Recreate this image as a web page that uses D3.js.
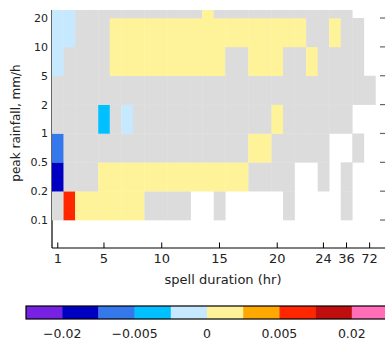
<!DOCTYPE html>
<html>
<head>
<meta charset="utf-8">
<script src="https://cdn.jsdelivr.net/npm/d3@7/dist/d3.min.js"></script>
<style>
  html, body { margin: 0; padding: 0; background: #fff; }
  svg { display: block; }
  text { font-family: "DejaVu Sans", sans-serif; fill: #222; }
</style>
</head>
<body>
<svg id="chart" width="385" height="341"></svg>
<script>
// Spell duration categories (hr), one column each
const durations = [1, 2, 3, 4, 5, 6, 7, 8, 9, 10, 11, 12, 13, 14, 15, 16, 17, 18, 19, 20, 21, 22, 23, 24, 30, 36, 48, 72];
const durationTicks = [1, 5, 10, 15, 20, 24, 36, 72];

// Peak rainfall class boundaries (mm/h), one row between each pair
const rainBounds = [0.05, 0.1, 0.2, 0.5, 1, 2, 5, 10, 20, 50];
const rainTicks = [0.1, 0.2, 0.5, 1, 2, 5, 10, 20];

// Trend per cell: number = trend, "ns" = not significant, null = no data
const rain20to50 = [-0.001, -0.001, "ns", "ns", "ns", "ns", "ns", "ns", "ns", "ns", "ns", "ns", "ns", 0.001, "ns", "ns", "ns", "ns", "ns", "ns", "ns", "ns", "ns", "ns", "ns", "ns", null, null];
const rain10to20 = [-0.001, -0.001, "ns", "ns", "ns", 0.001, 0.001, 0.001, 0.001, 0.001, 0.001, 0.001, 0.001, 0.001, 0.001, 0.001, 0.001, 0.001, 0.001, 0.001, 0.001, 0.001, "ns", "ns", 0.001, "ns", "ns", null];
const rain5to10 = [-0.001, "ns", "ns", "ns", "ns", 0.001, 0.001, 0.001, 0.001, 0.001, 0.001, 0.001, 0.001, 0.001, 0.001, "ns", "ns", 0.001, 0.001, 0.001, "ns", "ns", 0.001, "ns", "ns", "ns", "ns", null];
const rain2to5 = ["ns", "ns", "ns", "ns", "ns", "ns", "ns", "ns", "ns", "ns", "ns", "ns", "ns", "ns", "ns", "ns", "ns", "ns", "ns", "ns", "ns", "ns", "ns", "ns", "ns", "ns", "ns", "ns"];
const rain1to2 = ["ns", "ns", "ns", "ns", -0.003, "ns", -0.001, "ns", "ns", "ns", "ns", "ns", "ns", "ns", "ns", "ns", "ns", "ns", "ns", 0.001, "ns", "ns", "ns", "ns", "ns", "ns", null, null];
const rain05to1 = [-0.007, "ns", "ns", "ns", "ns", "ns", "ns", "ns", "ns", "ns", "ns", "ns", "ns", "ns", "ns", "ns", "ns", 0.001, 0.001, "ns", "ns", "ns", "ns", "ns", null, null, "ns", null];
const rain02to05 = [-0.015, "ns", "ns", "ns", 0.001, 0.001, 0.001, 0.001, 0.001, 0.001, 0.001, 0.001, 0.001, 0.001, 0.001, 0.001, 0.001, "ns", "ns", "ns", "ns", null, null, "ns", null, "ns", null, null];
const rain01to02 = ["ns", 0.007, 0.001, 0.001, 0.001, 0.001, 0.001, 0.001, "ns", "ns", "ns", "ns", null, null, "ns", null, null, null, null, null, "ns", null, null, null, null, "ns", null, null];
const rain005to01 = [null, null, null, null, null, null, null, null, null, null, null, null, null, null, null, null, null, null, null, null, null, null, null, null, null, null, null, null];

// Rows from the lowest rainfall class upward
const rows = [rain005to01, rain01to02, rain02to05, rain05to1, rain1to2, rain2to5, rain5to10, rain10to20, rain20to50];

// Colour classes
const trendBounds = [-0.05, -0.02, -0.01, -0.005, -0.002, 0, 0.002, 0.005, 0.01, 0.02, 0.05];
const trendColors = ["#7722e2", "#0000c2", "#3478ec", "#00c0ff", "#c6e9ff", "#fff399", "#ffa800", "#ff2600", "#c00d0d", "#ff6eb6"];
const colorbarLabels = [{ v: -0.02, t: "\u22120.02" }, { v: -0.005, t: "\u22120.005" }, { v: 0, t: "0" }, { v: 0.005, t: "0.005" }, { v: 0.02, t: "0.02" }];
const nsColor = "#dcdcdc";

const svg = d3.select("#chart");
const plot = { left: 52, right: 385, top: 10, bottom: 248 };

const x = d3.scaleBand().domain(durations).range([plot.left, plot.left + durations.length * 11.55]).paddingInner(0).paddingOuter(0);
const y = d3.scalePoint().domain(rainBounds).range([248.9, 248.9 - 28.86 * (rainBounds.length - 1)]);
const color = d3.scaleThreshold().domain(trendBounds.slice(1, -1)).range(trendColors);

svg.append("defs").append("clipPath").attr("id", "plotclip")
  .append("rect").attr("x", plot.left).attr("y", plot.top)
  .attr("width", plot.right - plot.left).attr("height", plot.bottom - plot.top);

// left axis line (cells are drawn over it)
svg.append("line").attr("x1", plot.left).attr("x2", plot.left)
  .attr("y1", plot.top).attr("y2", plot.bottom)
  .attr("stroke", "#000").attr("stroke-width", 1.2);

// cells
const cells = [];
rows.forEach((row, r) => {
  row.forEach((v, c) => {
    if (v === null) return;
    cells.push({ lo: rainBounds[r], hi: rainBounds[r + 1], d: durations[c], v });
  });
});

svg.append("g").attr("clip-path", "url(#plotclip)")
  .selectAll("rect").data(cells).join("rect")
  .attr("x", d => x(d.d))
  .attr("width", x.bandwidth() + 0.3)
  .attr("y", d => y(d.hi))
  .attr("height", d => y(d.lo) - y(d.hi) + 0.3)
  .attr("fill", d => d.v === "ns" ? nsColor : color(d.v));

// bottom axis
const xAxis = svg.append("g");
xAxis.append("line").attr("x1", plot.left).attr("x2", plot.right)
  .attr("y1", plot.bottom).attr("y2", plot.bottom)
  .attr("stroke", "#000").attr("stroke-width", 1.2);
xAxis.selectAll("line.tick").data(durationTicks).join("line").attr("class", "tick")
  .attr("x1", d => x(d) + x.bandwidth() / 2).attr("x2", d => x(d) + x.bandwidth() / 2)
  .attr("y1", plot.bottom - 5.5).attr("y2", plot.bottom)
  .attr("stroke", "#000").attr("stroke-width", 1);
xAxis.selectAll("text").data(durationTicks).join("text")
  .attr("x", d => x(d) + x.bandwidth() / 2).attr("y", 263)
  .attr("text-anchor", "middle").attr("font-size", 13)
  .text(d => d);
svg.append("text").attr("x", 223).attr("y", 284)
  .attr("text-anchor", "middle").attr("font-size", 13)
  .text("spell duration (hr)");

// left tick labels
svg.append("g").selectAll("text").data(rainTicks).join("text")
  .attr("x", 48).attr("y", d => y(d))
  .attr("dy", "0.36em")
  .attr("text-anchor", "end").attr("font-size", 11)
  .text(d => d);
svg.append("text")
  .attr("transform", "translate(20,123) rotate(-90)")
  .attr("text-anchor", "middle").attr("font-size", 12)
  .text("peak rainfall, mm/h");

// right-side inward ticks
svg.append("g").selectAll("line").data(rainTicks).join("line")
  .attr("x1", 380).attr("x2", 386)
  .attr("y1", d => y(d)).attr("y2", d => y(d))
  .attr("stroke", "#666").attr("stroke-width", 1.2);

// colour bar
const cb = { x0: 26, x1: 388, y: 306, h: 13 };
const cbx = d3.scaleLinear().domain([0, trendColors.length]).range([cb.x0, cb.x1]);
const cbg = svg.append("g");
cbg.selectAll("rect").data(trendColors).join("rect")
  .attr("x", (d, i) => cbx(i)).attr("width", (d, i) => cbx(i + 1) - cbx(i) + 0.3)
  .attr("y", cb.y).attr("height", cb.h)
  .attr("fill", d => d);
cbg.append("rect").attr("x", cb.x0).attr("y", cb.y)
  .attr("width", cb.x1 - cb.x0).attr("height", cb.h)
  .attr("fill", "none").attr("stroke", "#000").attr("stroke-width", 1.2);
cbg.selectAll("text").data(colorbarLabels).join("text")
  .attr("x", d => cbx(trendBounds.indexOf(d.v)))
  .attr("y", 338)
  .attr("text-anchor", "middle").attr("font-size", 12.5)
  .text(d => d.t);
</script>
</body>
</html>
